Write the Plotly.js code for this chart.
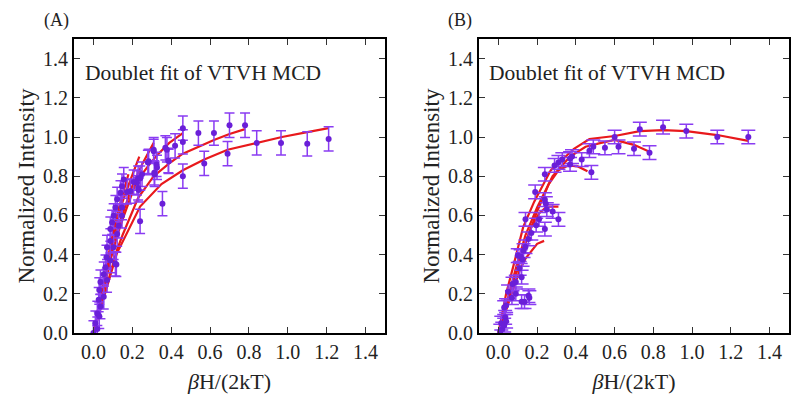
<!DOCTYPE html>
<html>
<head>
<meta charset="utf-8">
<script src="https://cdn.plot.ly/plotly-3.0.1.min.js"></script>
<style>html,body{margin:0;padding:0;background:#fff;}#chart{width:800px;height:400px;}</style>
</head>
<body>
<div id="chart"></div>
<script>
// ---------- Panel A data ----------
const ptsAx = [1.21,1.10,0.965,0.84,0.78,0.70,0.69,0.62,0.57,0.54,0.46,0.46,0.46,0.42,0.385,0.37,0.355,0.325,0.315,0.31,0.28,0.25,0.24,0.23,0.23,
  0.224,0.284,0.31,0.327,0.313,0.387,0.378,0.241,0.207,0.19,0.233,0.156,0.147,0.139,0.173,0.122,0.113,0.104,0.147,0.147,0.096,0.087,0.13,0.122,
  0.087,0.07,0.104,0.113,0.067,0.062,0.087,0.053,0.036,0.07,0.03,0.053,0.027,0.036,0.02,0.03,0.01,0.02,0.0,0.118];
const ptsAy = [0.99,0.965,0.97,0.97,1.06,1.06,0.915,1.02,0.865,1.02,1.045,0.975,0.80,0.955,0.88,0.945,0.66,0.86,0.81,0.935,0.87,0.81,0.57,0.79,0.74,
  0.766,0.876,0.927,0.845,0.817,0.876,0.935,0.79,0.77,0.724,0.73,0.783,0.749,0.715,0.72,0.682,0.64,0.598,0.64,0.598,0.564,0.53,0.547,0.505,
  0.47,0.437,0.437,0.353,0.386,0.336,0.37,0.30,0.26,0.27,0.22,0.185,0.17,0.135,0.10,0.085,0.05,0.02,0.0,0.35];
const errA = 0.062;

const lineA1x = [0,0.03,0.06,0.09,0.12,0.24,0.35,0.46,0.57,0.69,0.84,0.97,1.10,1.21];
const lineA1y = [0,0.10,0.20,0.30,0.405,0.645,0.76,0.83,0.885,0.935,0.97,1.0,1.025,1.045];
const lineA2x = [0,0.04,0.08,0.12,0.15,0.23,0.31,0.39,0.46,0.54,0.62,0.70,0.78];
const lineA2y = [0,0.14,0.28,0.42,0.50,0.69,0.80,0.865,0.915,0.95,0.985,1.015,1.04];
const lineA3x = [0,0.03,0.06,0.09,0.12,0.15,0.22,0.28,0.33,0.39,0.46];
const lineA3y = [0,0.13,0.26,0.38,0.49,0.58,0.77,0.85,0.91,0.97,1.02];
const lineA4x = [0,0.03,0.06,0.09,0.12,0.16,0.20,0.25,0.31];
const lineA4y = [0,0.14,0.28,0.41,0.52,0.64,0.75,0.86,0.97];
const lineA5x = [0,0.03,0.06,0.09,0.12,0.15,0.19,0.236];
const lineA5y = [0,0.15,0.30,0.44,0.56,0.67,0.78,0.90];
const lineA6x = [0,0.03,0.06,0.09,0.12,0.15,0.18];
const lineA6y = [0,0.16,0.32,0.46,0.60,0.71,0.81];

// ---------- Panel B data ----------
const ptsBx = [1.29,1.13,0.97,0.85,0.73,0.78,0.70,0.62,0.60,0.55,0.49,0.47,0.48,0.43,0.38,0.37,0.37,0.33,0.31,0.29,0.24,0.19,0.24,0.245,0.25,0.28,0.31,
  0.14,0.21,0.195,0.24,0.17,0.155,0.14,0.10,0.115,0.13,0.11,0.125,0.12,0.09,0.073,0.05,0.09,0.12,0.135,0.155,0.16,0.07,0.04,0.03,0.035,0.015,0.02,0.04,0.01,0.03];
const ptsBy = [1.0,1.0,1.03,1.05,1.04,0.92,0.94,0.95,1.0,0.945,0.95,0.93,0.82,0.885,0.90,0.89,0.86,0.885,0.87,0.855,0.81,0.72,0.68,0.66,0.63,0.62,0.58,
  0.58,0.58,0.55,0.53,0.51,0.48,0.44,0.395,0.39,0.42,0.33,0.375,0.285,0.26,0.25,0.21,0.20,0.16,0.16,0.19,0.18,0.18,0.14,0.13,0.08,0.05,0.02,0.06,0.01,0.04];
const errB = 0.035;

const lineB1x = [0,0.015,0.04,0.077,0.128,0.185,0.27,0.39,0.47,0.60,0.73,0.85,0.97,1.13,1.29];
const lineB1y = [0,0.08,0.20,0.34,0.54,0.67,0.83,0.94,0.99,1.005,1.03,1.035,1.03,1.01,0.98];
const lineB2x = [0,0.02,0.05,0.09,0.14,0.20,0.28,0.37,0.45,0.53,0.60,0.70,0.78];
const lineB2y = [0,0.07,0.18,0.33,0.50,0.64,0.80,0.90,0.95,0.97,0.985,0.96,0.925];
const lineB3x = [0,0.02,0.05,0.09,0.14,0.20,0.26,0.31,0.36,0.41,0.46];
const lineB3y = [0,0.06,0.16,0.30,0.46,0.62,0.76,0.83,0.855,0.85,0.825];
const lineB4x = [0,0.02,0.05,0.09,0.13,0.17,0.21,0.25,0.31];
const lineB4y = [0,0.06,0.16,0.30,0.43,0.54,0.61,0.645,0.645];
const lineB5x = [0,0.02,0.05,0.08,0.11,0.14,0.17,0.20,0.236];
const lineB5y = [0,0.06,0.15,0.24,0.32,0.38,0.42,0.455,0.47];

const panelLabels = ['(A)','(B)'];
const noteText = 'Doublet fit of VTVH MCD';
const xTitle = '<i>β</i>H/(2kT)';
const yTitle = 'Normalized Intensity';
const tickVals = [0,0.2,0.4,0.6,0.8,1.0,1.2,1.4];
const tickText = ['0.0','0.2','0.4','0.6','0.8','1.0','1.2','1.4'];

const RED = '#e8191c', PURPLE = '#8a3cf2', MARK = '#6a1fd8';
function line(x, y, xa, ya) {
  return {x, y, xaxis: xa, yaxis: ya, type: 'scatter', mode: 'lines',
          line: {color: RED, width: 2.2}, hoverinfo: 'skip', showlegend: false};
}
function pts(x, y, err, capw, xa, ya) {
  return {x, y, xaxis: xa, yaxis: ya, type: 'scatter', mode: 'markers',
          marker: {color: MARK, size: 6},
          error_y: {type: 'constant', value: err, color: PURPLE, thickness: 1.5, width: capw},
          showlegend: false};
}

const traces = [
  line(lineA1x, lineA1y, 'x', 'y'), line(lineA2x, lineA2y, 'x', 'y'), line(lineA3x, lineA3y, 'x', 'y'),
  line(lineA4x, lineA4y, 'x', 'y'), line(lineA5x, lineA5y, 'x', 'y'), line(lineA6x, lineA6y, 'x', 'y'),
  pts(ptsAx, ptsAy, errA, 5, 'x', 'y'),
  line(lineB1x, lineB1y, 'x2', 'y2'), line(lineB2x, lineB2y, 'x2', 'y2'), line(lineB3x, lineB3y, 'x2', 'y2'),
  line(lineB4x, lineB4y, 'x2', 'y2'), line(lineB5x, lineB5y, 'x2', 'y2'),
  pts(ptsBx, ptsBy, errB, 7, 'x2', 'y2')
];

const FONT = "'Liberation Serif', 'Times New Roman', Times, 'DejaVu Serif', serif";
function xax(domain, anchor) {
  return {domain, anchor, range: [-0.1, 1.5], tickmode: 'array', tickvals: tickVals, ticktext: tickText,
          ticks: 'inside', ticklen: 6, tickwidth: 1, tickcolor: '#333', showline: true, linecolor: '#000', linewidth: 2,
          mirror: 'ticks', showgrid: false, zeroline: false, tickfont: {family: FONT, size: 20, color: '#222'},
          title: {text: xTitle, font: {family: FONT, size: 22, color: '#222'}, standoff: 12}, automargin: false};
}
function yax(domain, anchor) {
  return {domain, anchor, range: [0, 1.5], tickmode: 'array', tickvals: tickVals, ticktext: tickText,
          ticks: 'inside', ticklen: 6, tickwidth: 1, tickcolor: '#333', showline: true, linecolor: '#000', linewidth: 2,
          mirror: 'ticks', showgrid: false, zeroline: false, tickfont: {family: FONT, size: 20, color: '#222'},
          title: {text: yTitle, font: {family: FONT, size: 23, color: '#222'}, standoff: 2}, automargin: false};
}

const layout = {
  width: 800, height: 400, margin: {l: 0, r: 0, t: 0, b: 0},
  paper_bgcolor: '#fff', plot_bgcolor: '#fff', showlegend: false,
  xaxis: xax([0.0925, 0.48125], 'y'), yaxis: yax([0.1675, 0.9025], 'x'),
  xaxis2: xax([0.59875, 0.98625], 'y2'), yaxis2: yax([0.1675, 0.9025], 'x2'),
  annotations: [
    {text: panelLabels[0], xref: 'paper', yref: 'paper', x: 57/800, y: 1 - 20/400, xanchor: 'center', yanchor: 'middle',
     showarrow: false, font: {family: FONT, size: 18, color: '#222'}},
    {text: panelLabels[1], xref: 'paper', yref: 'paper', x: 460/800, y: 1 - 20/400, xanchor: 'center', yanchor: 'middle',
     showarrow: false, font: {family: FONT, size: 18, color: '#222'}},
    {text: noteText, xref: 'paper', yref: 'paper', x: 83/800, xanchor: 'left', y: 1 - 73/400, yanchor: 'middle',
     showarrow: false, font: {family: FONT, size: 21.5, color: '#222'}},
    {text: noteText, xref: 'paper', yref: 'paper', x: 487/800, xanchor: 'left', y: 1 - 73/400, yanchor: 'middle',
     showarrow: false, font: {family: FONT, size: 21.5, color: '#222'}}
  ]
};

Plotly.newPlot('chart', traces, layout, {staticPlot: true, displayModeBar: false});
</script>
</body>
</html>
